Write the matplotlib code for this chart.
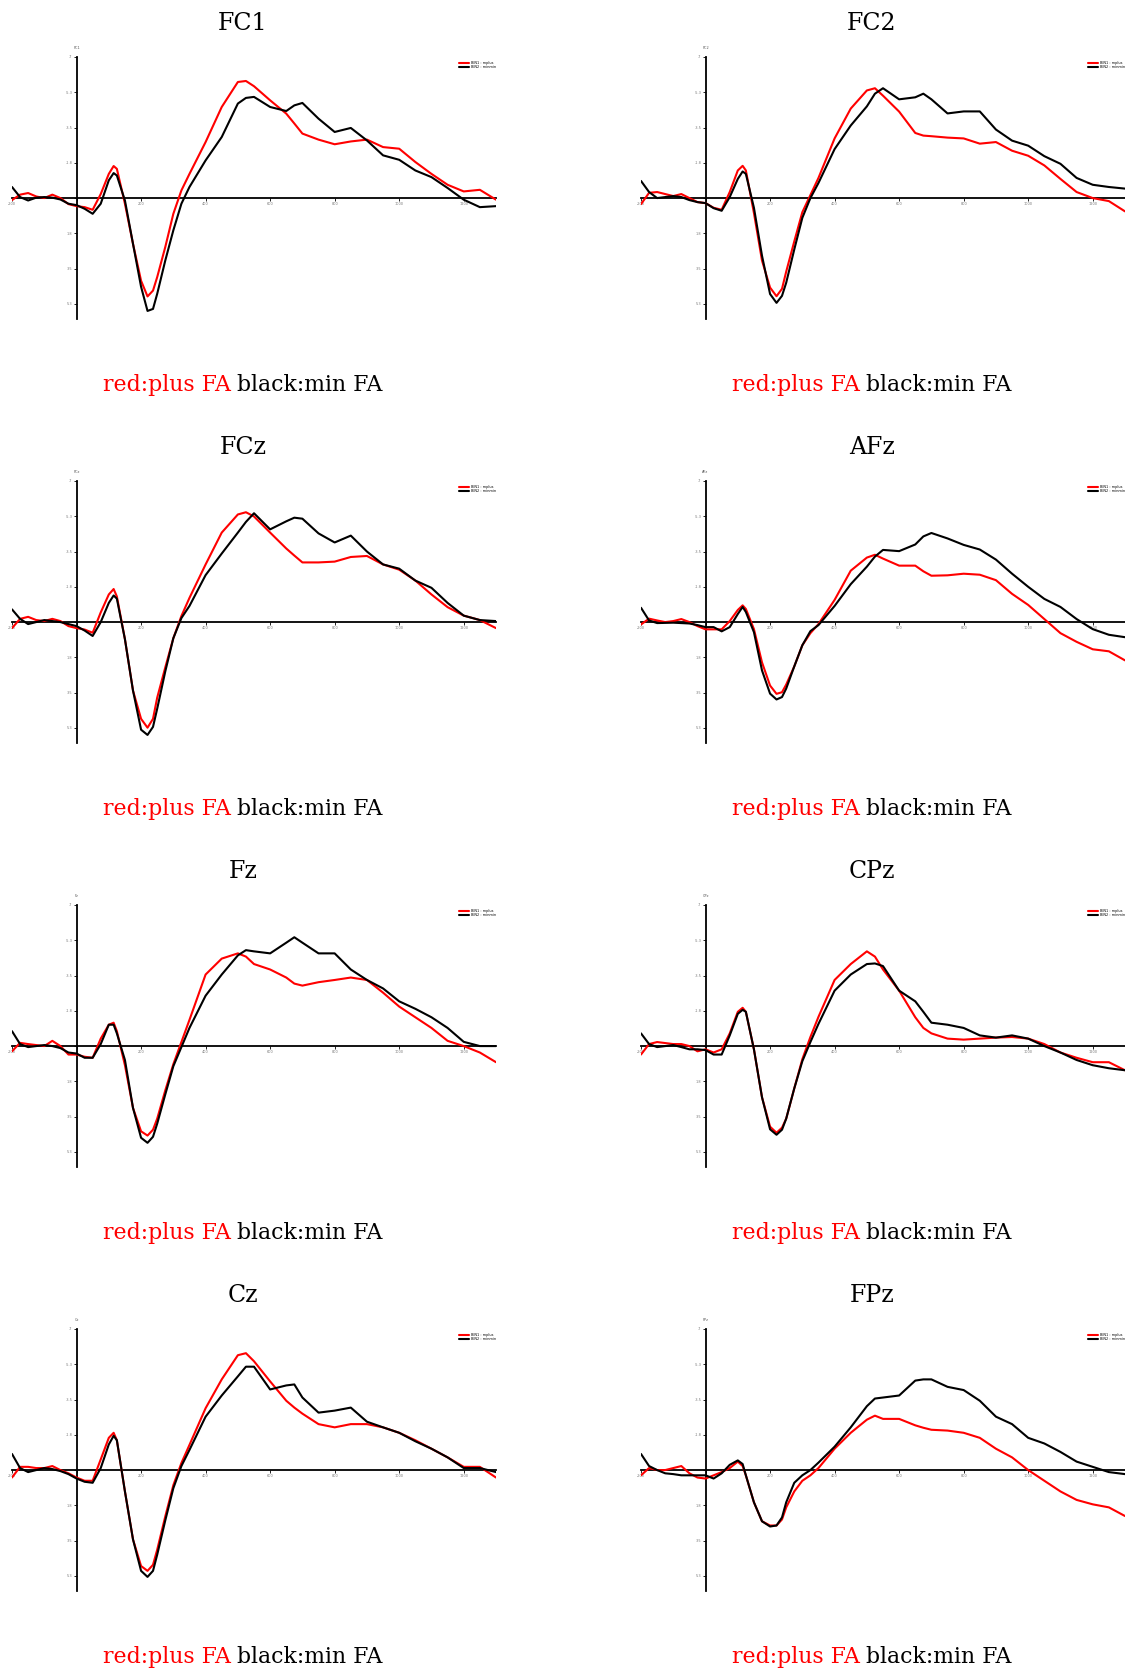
import numpy as np
import matplotlib.pyplot as plt

# time axis (ms) and ERP amplitudes (uV), negative plotted up
times = [-200, -175, -150, -125, -100, -75, -50, -25, 0, 25, 50, 75, 100, 115, 125, 150, 175, 200, 220, 237,
         250, 275, 300, 325, 350, 400, 450, 500, 525, 550, 600, 650, 675, 700, 750, 800, 850, 900, 950,
         1000, 1050, 1100, 1150, 1200, 1250, 1300]

fc1_plus = [0.1, -0.17, -0.25, -0.08, 0.0, -0.17, 0.0, 0.3, 0.4, 0.45, 0.58, -0.2, -1.2, -1.59, -1.45, 0.28, 2.27, 4.1, 4.88, 4.59, 3.92, 2.43, 0.78, -0.38, -1.2, -2.78, -4.52, -5.76, -5.81, -5.55, -4.85, -4.19, -3.7, -3.2, -2.9, -2.67, -2.81, -2.9, -2.53, -2.45, -1.79, -1.2, -0.66, -0.33, -0.41, 0.08]
fc1_min = [-0.55, -0.05, 0.12, -0.02, -0.05, -0.02, 0.07, 0.28, 0.35, 0.53, 0.78, 0.28, -0.88, -1.24, -1.12, 0.12, 2.27, 4.4, 5.6, 5.5, 4.75, 3.1, 1.6, 0.28, -0.55, -1.87, -3.03, -4.69, -4.97, -5.02, -4.52, -4.32, -4.6, -4.72, -3.94, -3.28, -3.48, -2.86, -2.12, -1.9, -1.37, -1.04, -0.5, 0.08, 0.45, 0.4]

fc2_plus = [0.3, -0.26, -0.3, -0.2, -0.1, -0.2, 0.0, 0.2, 0.25, 0.48, 0.58, -0.3, -1.37, -1.6, -1.37, 0.74, 3.1, 4.44, 4.87, 4.5, 3.65, 2.15, 0.7, -0.15, -1.0, -2.96, -4.44, -5.34, -5.45, -5.08, -4.29, -3.23, -3.1, -3.07, -3.0, -2.96, -2.7, -2.78, -2.35, -2.1, -1.62, -0.95, -0.3, 0.0, 0.15, 0.66]
fc2_min = [-0.85, -0.3, 0.0, -0.05, -0.1, -0.05, 0.1, 0.2, 0.25, 0.5, 0.63, -0.05, -0.95, -1.32, -1.2, 0.48, 2.86, 4.76, 5.2, 4.85, 4.2, 2.55, 0.98, 0.0, -0.75, -2.43, -3.6, -4.55, -5.18, -5.45, -4.9, -5.0, -5.18, -4.9, -4.2, -4.3, -4.3, -3.4, -2.85, -2.6, -2.08, -1.7, -1.0, -0.66, -0.55, -0.47]

fcz_plus = [0.3, -0.16, -0.26, -0.1, -0.05, -0.16, -0.05, 0.2, 0.3, 0.37, 0.53, -0.48, -1.37, -1.64, -1.27, 0.85, 3.4, 4.8, 5.24, 4.8, 3.75, 2.25, 0.8, -0.3, -1.2, -2.86, -4.44, -5.34, -5.45, -5.24, -4.44, -3.65, -3.3, -2.96, -2.96, -3.0, -3.23, -3.28, -2.86, -2.6, -2.06, -1.37, -0.74, -0.32, -0.1, 0.3]
fcz_min = [-0.63, -0.16, 0.1, 0.0, -0.1, -0.05, 0.0, 0.1, 0.2, 0.42, 0.69, 0.0, -0.95, -1.32, -1.16, 0.85, 3.4, 5.34, 5.6, 5.2, 4.3, 2.45, 0.8, -0.2, -0.8, -2.33, -3.4, -4.44, -4.97, -5.4, -4.6, -5.0, -5.18, -5.13, -4.4, -3.95, -4.29, -3.5, -2.86, -2.65, -2.06, -1.7, -0.95, -0.32, -0.1, -0.05]

afz_plus = [0.12, -0.17, -0.08, 0.0, -0.05, -0.15, 0.0, 0.2, 0.36, 0.36, 0.36, -0.05, -0.6, -0.83, -0.65, 0.35, 2.0, 3.15, 3.56, 3.48, 3.1, 2.2, 1.15, 0.55, 0.1, -1.1, -2.55, -3.2, -3.34, -3.15, -2.8, -2.8, -2.52, -2.3, -2.32, -2.4, -2.35, -2.08, -1.4, -0.85, -0.15, 0.55, 0.98, 1.35, 1.45, 1.9]
afz_min = [-0.71, -0.08, 0.05, 0.04, 0.03, 0.05, 0.07, 0.15, 0.25, 0.25, 0.46, 0.25, -0.4, -0.75, -0.5, 0.5, 2.4, 3.55, 3.84, 3.72, 3.3, 2.2, 1.15, 0.45, 0.15, -0.8, -1.88, -2.75, -3.25, -3.58, -3.52, -3.85, -4.25, -4.42, -4.15, -3.83, -3.6, -3.1, -2.4, -1.75, -1.15, -0.75, -0.15, 0.35, 0.63, 0.75]

fz_plus = [0.26, -0.16, -0.1, -0.05, 0.0, -0.26, 0.0, 0.42, 0.42, 0.53, 0.58, -0.37, -1.06, -1.16, -0.74, 0.95, 3.07, 4.23, 4.44, 4.15, 3.6, 2.2, 0.9, -0.2, -1.3, -3.55, -4.34, -4.6, -4.44, -4.07, -3.8, -3.4, -3.1, -3.0, -3.17, -3.28, -3.4, -3.28, -2.65, -1.96, -1.43, -0.9, -0.26, 0.0, 0.32, 0.8]
fz_min = [-0.74, -0.1, 0.05, 0.0, -0.05, 0.0, 0.1, 0.32, 0.37, 0.58, 0.58, -0.1, -1.06, -1.06, -0.63, 0.69, 3.07, 4.55, 4.8, 4.5, 3.85, 2.4, 1.0, 0.05, -0.9, -2.5, -3.55, -4.5, -4.76, -4.7, -4.6, -5.13, -5.4, -5.13, -4.6, -4.6, -3.8, -3.28, -2.86, -2.22, -1.85, -1.43, -0.9, -0.21, 0.0, 0.0]

cpz_plus = [0.42, -0.1, -0.2, -0.15, -0.1, -0.1, 0.0, 0.26, 0.16, 0.32, 0.16, -0.63, -1.7, -1.9, -1.7, 0.16, 2.54, 4.0, 4.3, 4.05, 3.6, 2.1, 0.65, -0.45, -1.45, -3.28, -4.07, -4.7, -4.44, -3.8, -2.75, -1.43, -0.9, -0.63, -0.37, -0.32, -0.37, -0.42, -0.45, -0.37, -0.1, 0.32, 0.58, 0.8, 0.8, 1.2]
cpz_min = [-0.63, -0.1, 0.05, 0.0, -0.05, 0.05, 0.16, 0.16, 0.2, 0.42, 0.42, -0.53, -1.6, -1.8, -1.7, 0.16, 2.54, 4.13, 4.4, 4.15, 3.6, 2.1, 0.75, -0.2, -1.1, -2.75, -3.55, -4.07, -4.1, -3.97, -2.75, -2.22, -1.7, -1.16, -1.06, -0.9, -0.53, -0.42, -0.53, -0.37, 0.0, 0.32, 0.69, 0.95, 1.1, 1.2]

cz_plus = [0.37, -0.16, -0.16, -0.1, -0.1, -0.2, 0.0, 0.16, 0.37, 0.53, 0.53, -0.53, -1.6, -1.85, -1.48, 1.06, 3.44, 4.76, 5.0, 4.7, 3.95, 2.3, 0.75, -0.35, -1.25, -3.07, -4.5, -5.7, -5.8, -5.4, -4.4, -3.44, -3.1, -2.8, -2.28, -2.12, -2.28, -2.28, -2.12, -1.85, -1.48, -1.06, -0.63, -0.16, -0.16, 0.37]
cz_min = [-0.8, -0.1, 0.1, 0.0, -0.1, -0.05, 0.05, 0.2, 0.42, 0.58, 0.63, -0.1, -1.27, -1.7, -1.48, 1.06, 3.44, 5.0, 5.3, 5.0, 4.2, 2.5, 0.9, -0.2, -1.0, -2.65, -3.7, -4.65, -5.13, -5.13, -4.0, -4.2, -4.25, -3.6, -2.85, -2.95, -3.1, -2.4, -2.12, -1.85, -1.43, -1.06, -0.63, -0.1, -0.1, 0.1]

fpz_plus = [0.26, -0.1, 0.0, 0.0, -0.1, -0.2, 0.16, 0.37, 0.42, 0.26, 0.1, -0.1, -0.42, -0.2, 0.26, 1.6, 2.54, 2.75, 2.75, 2.45, 1.85, 1.06, 0.53, 0.26, -0.1, -1.06, -1.85, -2.5, -2.7, -2.54, -2.54, -2.22, -2.1, -2.0, -1.96, -1.85, -1.6, -1.06, -0.63, 0.0, 0.53, 1.06, 1.48, 1.7, 1.85, 2.28]
fpz_min = [-0.8, -0.2, 0.0, 0.16, 0.2, 0.26, 0.26, 0.26, 0.26, 0.42, 0.16, -0.26, -0.48, -0.3, 0.26, 1.6, 2.54, 2.8, 2.75, 2.35, 1.6, 0.63, 0.26, 0.0, -0.37, -1.16, -2.12, -3.17, -3.55, -3.6, -3.7, -4.44, -4.5, -4.5, -4.13, -3.97, -3.44, -2.65, -2.28, -1.6, -1.32, -0.9, -0.42, -0.16, 0.1, 0.2]

channels = ['FC1', 'FC2', 'FCz', 'AFz', 'Fz', 'CPz', 'Cz', 'FPz']
plus = [fc1_plus, fc2_plus, fcz_plus, afz_plus, fz_plus, cpz_plus, cz_plus, fpz_plus]
minus = [fc1_min, fc2_min, fcz_min, afz_min, fz_min, cpz_min, cz_min, fpz_min]

xticks = [-200, 0, 200, 400, 600, 800, 1000, 1200]
yticks = [-7, -5.25, -3.5, -1.75, 0, 1.75, 3.5, 5.25]
ytick_labels = ['-7', '-5.3', '-3.5', '-1.8', '', '1.8', '3.5', '5.3']

W, H = 1125, 1671
fig = plt.figure(figsize=(W / 100, H / 100), dpi=100)
serif = 'DejaVu Serif'

for i in range(8):
    row = i // 2
    col = i % 2
    x0 = 12 + 629 * col
    top = 57 + 424 * row
    ax = fig.add_axes([x0 / W, 1 - (top + 262) / H, 484 / W, 262 / H])
    ax.plot(times, plus[i], color='red', lw=1.5, label='BIN1 : mplus', zorder=3,
            solid_joinstyle='round', solid_capstyle='round')
    ax.plot(times, minus[i], color='black', lw=1.5, label='BIN2 : minmin', zorder=3,
            solid_joinstyle='round', solid_capstyle='round')
    ax.set_xlim(-200, 1300)
    ax.set_ylim(6, -7)
    ax.patch.set_visible(False)
    for s in ['top', 'right']:
        ax.spines[s].set_visible(False)
    ax.spines['left'].set_position(('data', 0))
    ax.spines['bottom'].set_position(('data', 0))
    ax.spines['left'].set_linewidth(1.3)
    ax.spines['bottom'].set_linewidth(1.3)
    ax.set_xticks(xticks)
    ax.set_xticklabels([str(t) for t in xticks])
    ax.set_yticks(yticks)
    ax.set_yticklabels(ytick_labels)
    ax.tick_params(direction='out', length=2, width=0.6, labelsize=2.5, labelcolor='#777777', pad=1)
    ax.text(0, -7.35, channels[i], fontsize=2.5, color='#555555', ha='center', va='bottom')
    ax.legend(loc='upper right', bbox_to_anchor=(1.0, 0.985), fontsize=2.5, frameon=False,
              handlelength=3, handletextpad=0.4, labelspacing=0.15, borderpad=0, borderaxespad=0)

    fig.text((x0 + 231) / W, 1 - (30 + 424 * row) / H, channels[i], fontsize=17,
             family=serif, ha='center', va='baseline')
    fig.text((x0 + 219) / W, 1 - (391 + 424 * row) / H, 'red:plus FA', fontsize=15.8,
             family=serif, color='red', ha='right', va='baseline')
    fig.text((x0 + 225) / W, 1 - (391 + 424 * row) / H, 'black:min FA', fontsize=15.8,
             family=serif, color='black', ha='left', va='baseline')

fig.savefig('out.png', dpi=100)
